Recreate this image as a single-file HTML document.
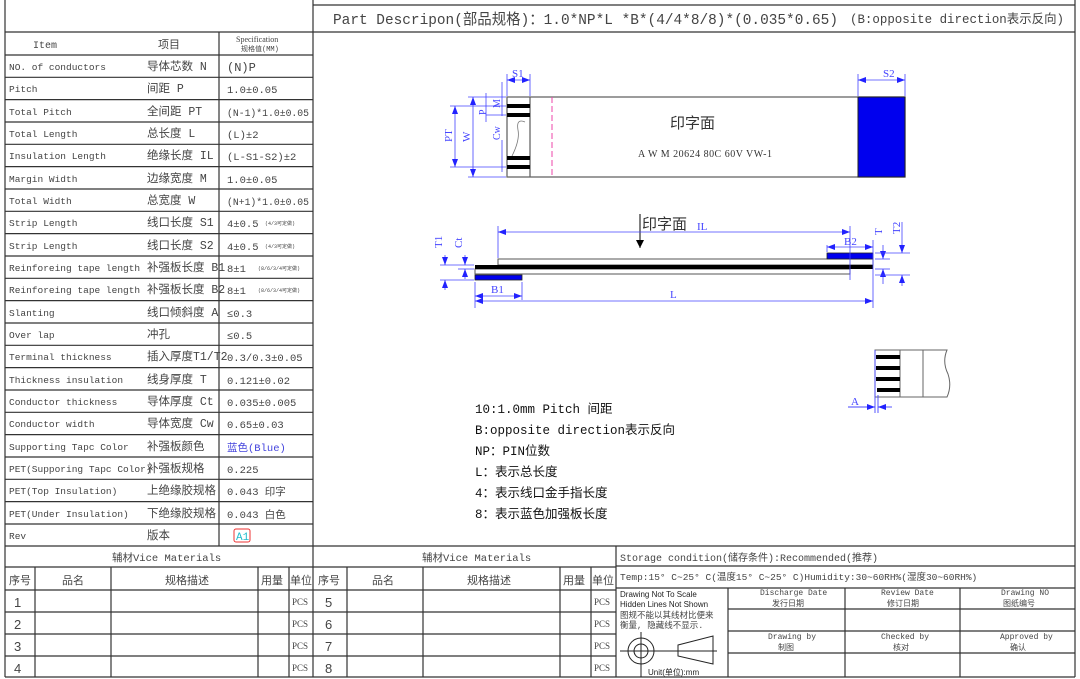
<!DOCTYPE html>
<html><head><meta charset="utf-8"><style>
html,body{margin:0;padding:0;background:#fff;}
svg{display:block;}
text{font-family:"Liberation Mono","Noto Sans CJK SC",monospace;fill:#444;}
.s{font-family:"Liberation Serif","Noto Serif CJK SC",serif;}
.d{fill:#4444ff;font-family:"Liberation Serif","Noto Serif CJK SC",serif;}
</style></head><body>
<svg width="1080" height="679" viewBox="0 0 1080 679" xmlns="http://www.w3.org/2000/svg">
<defs>
<marker id="a" markerWidth="8" markerHeight="6" refX="8" refY="3" orient="auto-start-reverse" markerUnits="userSpaceOnUse"><path d="M0,0 L8,3 L0,6z" fill="#22f"/></marker>
<marker id="k" markerWidth="8" markerHeight="8" refX="4" refY="8" orient="0" markerUnits="userSpaceOnUse"><path d="M0,0 L4,8 L8,0z" fill="#000"/></marker>
</defs>
<g stroke="#333" stroke-width="1.2" fill="none">
<line x1="5" y1="0" x2="5" y2="677"/>
<line x1="1075" y1="0" x2="1075" y2="677"/>
<line x1="5" y1="677" x2="1075" y2="677"/>
<line x1="313" y1="5" x2="1075" y2="5"/>
<line x1="313" y1="0" x2="313" y2="677"/>
<line x1="5" y1="32" x2="1075" y2="32"/>
<line x1="219" y1="32" x2="219" y2="546"/>
<line x1="5" y1="55" x2="313" y2="55"/>
</g>
<g stroke="#333" stroke-width="1.2">
<line x1="5" y1="77.3" x2="313" y2="77.3"/><line x1="5" y1="99.6" x2="313" y2="99.6"/><line x1="5" y1="122" x2="313" y2="122"/><line x1="5" y1="144.3" x2="313" y2="144.3"/><line x1="5" y1="166.6" x2="313" y2="166.6"/><line x1="5" y1="189" x2="313" y2="189"/><line x1="5" y1="211.3" x2="313" y2="211.3"/><line x1="5" y1="233.6" x2="313" y2="233.6"/><line x1="5" y1="256" x2="313" y2="256"/><line x1="5" y1="278.3" x2="313" y2="278.3"/><line x1="5" y1="300.6" x2="313" y2="300.6"/><line x1="5" y1="323" x2="313" y2="323"/><line x1="5" y1="345.3" x2="313" y2="345.3"/><line x1="5" y1="367.6" x2="313" y2="367.6"/><line x1="5" y1="390" x2="313" y2="390"/><line x1="5" y1="412.3" x2="313" y2="412.3"/><line x1="5" y1="434.6" x2="313" y2="434.6"/><line x1="5" y1="457" x2="313" y2="457"/><line x1="5" y1="479.3" x2="313" y2="479.3"/><line x1="5" y1="501.6" x2="313" y2="501.6"/><line x1="5" y1="524" x2="313" y2="524"/>
<line x1="5" y1="546" x2="1075" y2="546"/>
</g>
<text x="333" y="24" font-size="15" textLength="505" lengthAdjust="spacingAndGlyphs">Part Descripon(部品规格)：1.0*NP*L *B*(4/4*8/8)*(0.035*0.65)</text>
<text x="850" y="23" font-size="12.5" textLength="214" lengthAdjust="spacingAndGlyphs">(B:opposite direction表示反向)</text>
<g font-size="10">
<text x="33" y="48">Item</text>
<text x="158" y="48" font-size="11">项目</text>
<text x="236" y="42" font-size="8" class="s">Specification</text>
<text x="241" y="51" font-size="7">规格值(MM)</text>
</g>
<g font-size="9.5">
<text x="9" y="70">NO. of conductors</text><text x="147" y="70" font-size="11.5">导体芯数  N</text><text x="227" y="71" font-size="12">(N)P</text>
<text x="9" y="92">Pitch</text><text x="147" y="92" font-size="11.5">间距     P</text><text x="227" y="93" font-size="10.5">1.0±0.05</text>
<text x="9" y="115">Total Pitch</text><text x="147" y="115" font-size="11.5">全间距   PT</text><text x="227" y="116" font-size="10.5" textLength="82" lengthAdjust="spacingAndGlyphs">(N-1)*1.0±0.05</text>
<text x="9" y="137">Total Length</text><text x="147" y="137" font-size="11.5">总长度   L</text><text x="227" y="138" font-size="10.5">(L)±2</text>
<text x="9" y="159">Insulation Length</text><text x="147" y="159" font-size="11.5">绝缘长度 IL</text><text x="227" y="160" font-size="10.5">(L-S1-S2)±2</text>
<text x="9" y="182">Margin Width</text><text x="147" y="182" font-size="11.5">边缘宽度 M</text><text x="227" y="183" font-size="10.5">1.0±0.05</text>
<text x="9" y="204">Total Width</text><text x="147" y="204" font-size="11.5">总宽度   W</text><text x="227" y="205" font-size="10.5" textLength="82" lengthAdjust="spacingAndGlyphs">(N+1)*1.0±0.05</text>
<text x="9" y="226">Strip Length</text><text x="147" y="226" font-size="11.5">线口长度 S1</text><text x="227" y="227" font-size="10.5">4±0.5</text><text x="265" y="225" font-size="5">(4/3可定做)</text>
<text x="9" y="249">Strip Length</text><text x="147" y="249" font-size="11.5">线口长度 S2</text><text x="227" y="250" font-size="10.5">4±0.5</text><text x="265" y="248" font-size="5">(4/3可定做)</text>
<text x="9" y="271">Reinforeing tape length</text><text x="147" y="271" font-size="11.5">补强板长度 B1</text><text x="227" y="272" font-size="10.5">8±1</text><text x="258" y="270" font-size="5">(8/6/3/4可定做)</text>
<text x="9" y="293">Reinforeing tape length</text><text x="147" y="293" font-size="11.5">补强板长度 B2</text><text x="227" y="294" font-size="10.5">8±1</text><text x="258" y="292" font-size="5">(8/6/3/4可定做)</text>
<text x="9" y="316">Slanting</text><text x="147" y="316" font-size="11.5">线口倾斜度 A</text><text x="227" y="317" font-size="10.5">≤0.3</text>
<text x="9" y="338">Over lap</text><text x="147" y="338" font-size="11.5">冲孔</text><text x="227" y="339" font-size="10.5">≤0.5</text>
<text x="9" y="360">Terminal thickness</text><text x="147" y="360" font-size="11.5">插入厚度T1/T2</text><text x="227" y="361" font-size="10.5">0.3/0.3±0.05</text>
<text x="9" y="383">Thickness insulation</text><text x="147" y="383" font-size="11.5">线身厚度  T</text><text x="227" y="384" font-size="10.5">0.121±0.02</text>
<text x="9" y="405">Conductor thickness</text><text x="147" y="405" font-size="11.5">导体厚度  Ct</text><text x="227" y="406" font-size="10.5">0.035±0.005</text>
<text x="9" y="427">Conductor width</text><text x="147" y="427" font-size="11.5">导体宽度  Cw</text><text x="227" y="428" font-size="10.5">0.65±0.03</text>
<text x="9" y="450">Supporting Tapc Color</text><text x="147" y="450" font-size="11.5">补强板颜色</text><text x="227" y="451" font-size="10.5" style="fill:#4444dd">蓝色(Blue)</text>
<text x="9" y="472">PET(Supporing Tapc Color)</text><text x="147" y="472" font-size="11.5">补强板规格</text><text x="227" y="473" font-size="10.5">0.225</text>
<text x="9" y="494">PET(Top Insulation)</text><text x="147" y="494" font-size="11.5">上绝缘胶规格</text><text x="227" y="495" font-size="10.5">0.043 印字</text>
<text x="9" y="517">PET(Under Insulation)</text><text x="147" y="517" font-size="11.5">下绝缘胶规格</text><text x="227" y="518" font-size="10.5">0.043 白色</text>
<text x="9" y="539">Rev</text><text x="147" y="539" font-size="11.5">版本</text>
</g>
<rect x="234" y="529" width="16" height="13" rx="2" fill="none" stroke="#e33" stroke-width="1"/>
<text x="236" y="540" font-size="11" style="fill:#2bc">A1</text>

<g stroke="#333" stroke-width="1.2">
<line x1="5" y1="567" x2="616" y2="567"/>
<line x1="5" y1="590" x2="616" y2="590"/>
<line x1="5" y1="612" x2="616" y2="612"/>
<line x1="5" y1="634" x2="616" y2="634"/>
<line x1="5" y1="656" x2="616" y2="656"/>
<line x1="35" y1="567" x2="35" y2="677"/><line x1="111" y1="567" x2="111" y2="677"/><line x1="258" y1="567" x2="258" y2="677"/><line x1="289" y1="567" x2="289" y2="677"/>
<line x1="347" y1="567" x2="347" y2="677"/><line x1="423" y1="567" x2="423" y2="677"/><line x1="560" y1="567" x2="560" y2="677"/><line x1="591" y1="567" x2="591" y2="677"/>
<line x1="616" y1="546" x2="616" y2="677"/>
<line x1="616" y1="566" x2="1075" y2="566"/>
<line x1="616" y1="588" x2="1075" y2="588"/>
<line x1="728" y1="588" x2="728" y2="677"/><line x1="845" y1="588" x2="845" y2="677"/><line x1="960" y1="588" x2="960" y2="677"/>
<line x1="728" y1="609" x2="1075" y2="609"/><line x1="728" y1="631" x2="1075" y2="631"/><line x1="728" y1="653" x2="1075" y2="653"/>
</g>
<g font-size="10.5">
<text x="112" y="561">辅材Vice Materials</text>
<text x="422" y="561">辅材Vice Materials</text>
<g font-size="11">
<text x="9" y="584">序号</text><text x="62" y="584">品名</text><text x="165" y="584">规格描述</text><text x="261" y="584">用量</text><text x="290" y="584">单位</text>
<text x="318" y="584">序号</text><text x="372" y="584">品名</text><text x="467" y="584">规格描述</text><text x="563" y="584">用量</text><text x="592" y="584">单位</text>
</g>
<g font-size="13"><text x="14" y="607" style="font-family:'Liberation Sans',sans-serif">1</text><text x="14" y="629" style="font-family:'Liberation Sans',sans-serif">2</text><text x="14" y="651" style="font-family:'Liberation Sans',sans-serif">3</text><text x="14" y="673" style="font-family:'Liberation Sans',sans-serif">4</text>
<text x="325" y="607" style="font-family:'Liberation Sans',sans-serif">5</text><text x="325" y="629" style="font-family:'Liberation Sans',sans-serif">6</text><text x="325" y="651" style="font-family:'Liberation Sans',sans-serif">7</text><text x="325" y="673" style="font-family:'Liberation Sans',sans-serif">8</text></g>
<g font-size="9"><text x="292" y="605" class="s">PCS</text><text x="292" y="627" class="s">PCS</text><text x="292" y="649" class="s">PCS</text><text x="292" y="671" class="s">PCS</text>
<text x="594" y="605" class="s">PCS</text><text x="594" y="627" class="s">PCS</text><text x="594" y="649" class="s">PCS</text><text x="594" y="671" class="s">PCS</text></g>
<text x="620" y="561" font-size="10">Storage condition(储存条件):Recommended(推荐)</text>
<text x="620" y="580" font-size="9.5">Temp:15° C~25° C(温度15° C~25° C)Humidity:30~60RH%(湿度30~60RH%)</text>
</g>
<g font-size="8">
<text x="620" y="597" style="font-family:'Liberation Sans',sans-serif;fill:#222">Drawing Not To Scale</text>
<text x="620" y="607" style="font-family:'Liberation Sans',sans-serif;fill:#222">Hidden Lines Not Shown</text>
<text x="620" y="618" font-size="8.5">图规不能以其线材比便来</text>
<text x="620" y="628" font-size="8.5">衡量, 隐藏线不显示.</text>
<text x="648" y="675" style="font-family:'Liberation Sans',sans-serif;fill:#222">Unit(单位):mm</text>
<text x="760" y="595">Discharge Date</text><text x="772" y="606">发行日期</text>
<text x="881" y="595">Review Date</text><text x="887" y="606">修订日期</text>
<text x="1001" y="595">Drawing NO</text><text x="1003" y="606">图纸编号</text>
<text x="768" y="639">Drawing by</text><text x="778" y="650">制图</text>
<text x="881" y="639">Checked by</text><text x="893" y="650">核对</text>
<text x="1000" y="639">Approved by</text><text x="1010" y="650">确认</text>
</g>
<g stroke="#222" fill="none" stroke-width="1">
<circle cx="641" cy="651" r="13"/><circle cx="641" cy="651" r="7"/>
<line x1="620" y1="651" x2="717" y2="651"/><line x1="641" y1="632" x2="641" y2="677"/>
<path d="M678,645 L713,636 L713,664 L678,656z"/>
</g>

<g stroke="#666" stroke-width="1.3" fill="none">
<rect x="507" y="97" width="398" height="80"/>
<line x1="530" y1="97" x2="530" y2="177"/>
<path d="M512,156 Q520,140 518,130 Q516,118 525,122" stroke="#777" stroke-width="0.8"/>
</g>
<line x1="552" y1="97" x2="552" y2="177" stroke="#e4a" stroke-width="1" stroke-dasharray="6,3"/>
<rect x="858" y="97" width="47" height="80" fill="#0000ee" stroke="#222"/>
<g fill="#000"><rect x="507" y="104" width="23" height="4"/><rect x="507" y="113" width="23" height="4"/><rect x="507" y="156" width="23" height="4"/><rect x="507" y="165" width="23" height="4"/></g>
<text x="670" y="128" font-size="15" style="fill:#333">印字面</text>
<text x="638" y="157" font-size="10" class="s" style="fill:#333" textLength="134">A W M  20624 80C 60V VW-1</text>
<g stroke="#44f" stroke-width="0.8" fill="none">
<line x1="507" y1="74" x2="507" y2="96"/><line x1="530" y1="74" x2="530" y2="96"/>
<line x1="507" y1="80" x2="530" y2="80" marker-start="url(#a)" marker-end="url(#a)"/>
<line x1="858" y1="74" x2="858" y2="96"/><line x1="905" y1="74" x2="905" y2="96"/>
<line x1="858" y1="80" x2="905" y2="80" marker-start="url(#a)" marker-end="url(#a)"/>
<line x1="450" y1="106" x2="506" y2="106"/><line x1="450" y1="167" x2="506" y2="167"/>
<line x1="455" y1="106" x2="455" y2="167" marker-start="url(#a)" marker-end="url(#a)"/>
<line x1="468" y1="97" x2="506" y2="97"/><line x1="468" y1="177" x2="506" y2="177"/>
<line x1="473" y1="97" x2="473" y2="177" marker-start="url(#a)" marker-end="url(#a)"/>
<line x1="486" y1="93" x2="486" y2="122"/><line x1="486" y1="115" x2="506" y2="115"/>
<line x1="502" y1="82" x2="502" y2="116"/><line x1="502" y1="140" x2="502" y2="172"/>
</g>
<g font-size="11">
<text x="512" y="77" class="d">S1</text><text x="883" y="77" class="d">S2</text>
<text x="452" y="142" class="d" transform="rotate(-90 452 142)">PT</text>
<text x="470" y="142" class="d" transform="rotate(-90 470 142)">W</text>
<text x="486" y="115" class="d" transform="rotate(-90 486 115)" font-size="10">P</text>
<text x="500" y="108" class="d" transform="rotate(-90 500 108)" font-size="10">M</text>
<text x="500" y="140" class="d" transform="rotate(-90 500 140)" font-size="10">Cw</text>
</g>

<g stroke="#555" stroke-width="1" fill="#fff">
<rect x="498" y="259" width="375" height="6"/>
<rect x="475" y="269" width="375" height="5"/>
</g>
<rect x="475" y="265" width="398" height="4" fill="#000"/>
<rect x="475" y="275" width="47" height="5" fill="#0000ee" stroke="#222" stroke-width="0.8"/>
<rect x="827" y="253" width="46" height="6" fill="#0000ee" stroke="#222" stroke-width="0.8"/>
<line x1="640" y1="214" x2="640" y2="248" stroke="#000" marker-end="url(#k)"/>
<text x="642" y="229" font-size="15" style="fill:#333">印字面</text>
<g stroke="#44f" stroke-width="0.8" fill="none">
<line x1="498" y1="226" x2="498" y2="258"/><line x1="850" y1="226" x2="850" y2="280"/>
<line x1="498" y1="232" x2="850" y2="232" marker-start="url(#a)" marker-end="url(#a)"/>
<line x1="827" y1="245" x2="827" y2="252"/><line x1="873" y1="240" x2="873" y2="308"/>
<line x1="827" y1="247" x2="873" y2="247" marker-start="url(#a)" marker-end="url(#a)"/>
<line x1="475" y1="282" x2="475" y2="308"/><line x1="522" y1="282" x2="522" y2="300"/>
<line x1="475" y1="296" x2="522" y2="296" marker-start="url(#a)" marker-end="url(#a)"/>
<line x1="475" y1="301" x2="873" y2="301" marker-start="url(#a)" marker-end="url(#a)"/>
<line x1="440" y1="265" x2="474" y2="265"/><line x1="440" y1="280" x2="474" y2="280"/>
<line x1="445" y1="255" x2="445" y2="265" marker-end="url(#a)"/><line x1="445" y1="290" x2="445" y2="280" marker-end="url(#a)"/>
<line x1="465" y1="255" x2="465" y2="265" marker-end="url(#a)"/><line x1="465" y1="279" x2="465" y2="269" marker-end="url(#a)"/>
<line x1="458" y1="269" x2="474" y2="269"/>
<line x1="875" y1="259" x2="890" y2="259"/><line x1="875" y1="269" x2="890" y2="269"/>
<line x1="883" y1="245" x2="883" y2="259" marker-end="url(#a)"/><line x1="883" y1="284" x2="883" y2="269" marker-end="url(#a)"/>
<line x1="875" y1="253" x2="910" y2="253"/><line x1="875" y1="275" x2="910" y2="275"/>
<line x1="902" y1="222" x2="902" y2="253" marker-end="url(#a)"/><line x1="902" y1="286" x2="902" y2="275" marker-end="url(#a)"/>
</g>
<g font-size="11">
<text x="697" y="230" class="d">IL</text>
<text x="844" y="245" class="d">B2</text>
<text x="491" y="293" class="d">B1</text>
<text x="670" y="298" class="d">L</text>
<text x="442" y="248" class="d" transform="rotate(-90 442 248)">T1</text>
<text x="462" y="248" class="d" transform="rotate(-90 462 248)">Ct</text>
<text x="882" y="235" class="d" transform="rotate(-90 882 235)">T</text>
<text x="900" y="234" class="d" transform="rotate(-90 900 234)">T2</text>
</g>

<g stroke="#666" stroke-width="1" fill="none">
<path d="M875,350 L947,350 Q942,362 948,374 Q952,386 947,397 L875,397z"/>
<line x1="900" y1="350" x2="900" y2="397"/><line x1="923" y1="350" x2="923" y2="397"/>
</g>
<g fill="#000"><rect x="876" y="355" width="24" height="4"/><rect x="876" y="366" width="24" height="4"/><rect x="876" y="377" width="24" height="4"/><rect x="877" y="388" width="23" height="4"/></g>
<g stroke="#44f" stroke-width="0.9">
<line x1="875" y1="350" x2="875" y2="413"/><line x1="878" y1="395" x2="878" y2="413"/>
<line x1="848" y1="407" x2="875" y2="407" marker-end="url(#a)"/><line x1="892" y1="407" x2="878" y2="407" marker-end="url(#a)"/>
</g>
<text x="851" y="405" font-size="11" class="d">A</text>

<g font-size="12.5">
<text x="475" y="413" style="fill:#111">10:1.0mm Pitch 间距</text>
<text x="475" y="434" style="fill:#111">B:opposite direction表示反向</text>
<text x="475" y="455" style="fill:#111">NP：PIN位数</text>
<text x="475" y="476" style="fill:#111">L：表示总长度</text>
<text x="475" y="497" style="fill:#111">4：表示线口金手指长度</text>
<text x="475" y="518" style="fill:#111">8：表示蓝色加强板长度</text>
</g>
</svg>
</body></html>
